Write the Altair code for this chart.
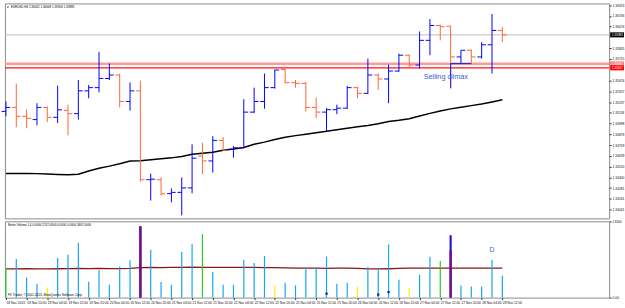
import altair as alt
import pandas as pd

symbol = "EURUSD,H4"
date_labels = ["18 Nov 2013", "18 Nov 20:00", "19 Nov 04:00", "19 Nov 12:00", "19 Nov 20:00",
               "20 Nov 04:00", "20 Nov 12:00", "20 Nov 20:00", "21 Nov 04:00", "21 Nov 12:00",
               "21 Nov 20:00", "22 Nov 04:00", "22 Nov 12:00", "22 Nov 20:00", "25 Nov 04:00",
               "25 Nov 12:00", "25 Nov 20:00", "26 Nov 04:00", "26 Nov 12:00", "26 Nov 20:00",
               "27 Nov 04:00", "27 Nov 12:00", "27 Nov 20:00", "28 Nov 04:00", "28 Nov 12:00"]

opens = [1.35133, 1.35177, 1.35078, 1.35042, 1.35177, 1.35067, 1.35144, 1.35108, 1.35361, 1.35397,
         1.35499, 1.35537, 1.35243, 1.35361, 1.34374, 1.34374, 1.34220, 1.34234, 1.34283, 1.34638,
         1.34583, 1.34811, 1.34712, 1.34729, 1.35125, 1.35243, 1.35397, 1.35598, 1.35452, 1.35444,
         1.35177, 1.35125, 1.35152, 1.35169, 1.35397, 1.35334, 1.35537, 1.35493, 1.35581, 1.35757,
         1.35647, 1.35922, 1.36087, 1.36079, 1.35738, 1.35812, 1.35738, 1.35873, 1.36032]
highs = [1.35243, 1.35441, 1.35155, 1.35224, 1.35188, 1.35419, 1.35207, 1.35482, 1.35427, 1.35793,
         1.35664, 1.35551, 1.35455, 1.35474, 1.34443, 1.34399, 1.34278, 1.34399, 1.34767, 1.34784,
         1.34858, 1.34847, 1.34748, 1.35268, 1.35397, 1.35554, 1.35598, 1.35609, 1.35482, 1.35463,
         1.35287, 1.35169, 1.35207, 1.35416, 1.35408, 1.35719, 1.35554, 1.35653, 1.35774, 1.35766,
         1.36021, 1.36159, 1.36096, 1.36085, 1.35812, 1.35821, 1.35903, 1.36214, 1.36068]
lows = [1.35078, 1.34957, 1.34946, 1.34979, 1.35015, 1.35004, 1.34866, 1.35042, 1.35279, 1.35345,
        1.35482, 1.35177, 1.35141, 1.34352, 1.34143, 1.34198, 1.34124, 1.33978, 1.34223, 1.34437,
        1.34454, 1.34693, 1.34619, 1.34721, 1.35117, 1.35163, 1.35386, 1.35444, 1.35397, 1.35133,
        1.35059, 1.34913, 1.35103, 1.35161, 1.35279, 1.35326, 1.35372, 1.35224, 1.35573, 1.35628,
        1.35609, 1.35757, 1.35922, 1.35389, 1.35664, 1.35664, 1.35719, 1.35554, 1.35903]
closes = [1.35177, 1.35078, 1.35056, 1.35177, 1.35067, 1.35150, 1.35108, 1.35361, 1.35397, 1.35499,
          1.35537, 1.35243, 1.35361, 1.34374, 1.34380, 1.34217, 1.34234, 1.34283, 1.34613, 1.34583,
          1.34811, 1.34701, 1.34729, 1.35125, 1.35243, 1.35397, 1.35592, 1.35452, 1.35444, 1.35177,
          1.35125, 1.35152, 1.35169, 1.35397, 1.35334, 1.35537, 1.35493, 1.35581, 1.35757, 1.35647,
          1.35922, 1.36087, 1.36074, 1.35738, 1.35812, 1.35738, 1.35873, 1.36032, 1.35983]
ma_values = [1.34443, 1.34443, 1.34443, 1.34442, 1.34438, 1.34433, 1.34430, 1.34435, 1.34471, 1.34501,
             1.34525, 1.34552, 1.34583, 1.34585, 1.34596, 1.34607, 1.34617, 1.34633, 1.34658, 1.34668,
             1.34679, 1.34701, 1.34715, 1.34732, 1.34768, 1.34792, 1.34820, 1.34845, 1.34864, 1.34880,
             1.34897, 1.34912, 1.34930, 1.34946, 1.34963, 1.34976, 1.34996, 1.35020, 1.35034, 1.35051,
             1.35081, 1.35111, 1.35137, 1.35161, 1.35179, 1.35197, 1.35216, 1.35238, 1.35262]

volumes = [5100, 6640, 3450, 2380, 1750, 6800, 7370, 9360, 2720, 4760, 2210, 5330, 6410, 12250, 8220,
           2670, 2210, 7830, 9190, 10890, 4420, 2210, 2210, 6470, 5950, 7150, 2090, 2550, 2090, 5220,
           5220, 7030, 2380, 2550, 1870, 5270, 4930, 9140, 3060, 1700, 3910, 7030, 6300, 10720, 2090,
           1920, 1920, 6470, 3740]
vol_types = ["churn", "normal", "normal", "normal", "low", "normal", "normal", "normal", "normal", "normal",
             "normal", "normal", "normal", "climax", "normal", "normal", "normal", "normal", "normal", "churn",
             "normal", "normal", "normal", "normal", "normal", "normal", "low", "normal", "normal", "normal",
             "normal", "normal", "normal", "normal", "low", "normal", "normal", "normal", "normal", "low",
             "normal", "normal", "churn", "climax", "normal", "normal", "normal", "normal", "normal"]
vol_ma = [4930, 4930, 4960, 4950, 4940, 4960, 4970, 5010, 4990, 5000, 4990, 4990, 5020, 5150, 5170,
          5160, 5180, 5190, 5220, 5200, 5210, 5200, 5190, 5190, 5180, 5160, 5150, 5100, 5070, 5060,
          5050, 5040, 5060, 5070, 5030, 4950, 4930, 4960, 5020, 5050, 5050, 5060, 5050, 5060, 5080,
          5070, 5060, 5060, 5050]
climax_body = {43: 8170}
marker_bars = [31, 36, 37]
marker_vals = [680, 510, 940]
vol_top = 13100

price_ticks = [1.36313, 1.36194, 1.36074, 1.35955, 1.35835, 1.35715, 1.35596, 1.35476, 1.35357,
               1.35237, 1.35118, 1.34998, 1.34878, 1.34759, 1.34639, 1.34520, 1.34400, 1.34281,
               1.34161, 1.34041]
level_lines = [1.35661, 1.35617]
support_line = {"from": 43, "to": 45, "price": 1.35664}
note_text = "Selling climax"
note_pos = (40.4, 1.35518)

n = len(opens)
bars = pd.DataFrame({"i": list(range(n)), "open": opens, "high": highs, "low": lows,
                     "close": closes, "ma": ma_values})
bars["dir"] = ["up" if c >= o else "down" for o, c in zip(opens, closes)]

tag_prices = [level_lines[0], level_lines[1], closes[-1]]
# axis labels hidden under the highlighted price tags are not drawn
visible_ticks = [t for t in price_ticks if all(abs(t - p) > 0.0004 for p in tag_prices)]

FONT = "Liberation Sans"
W = 610
xs = alt.Scale(domain=[-0.096, 58.33], nice=False, zero=False)
ys = alt.Scale(domain=[1.33945, 1.36332], nice=False, zero=False)
yaxis = alt.Axis(orient="right", values=visible_ticks, format=".5f", title=None, tickSize=2,
                 labelFontSize=3.3, labelPadding=1, grid=False, domain=False, labelOverlap=False)
col = alt.Color("dir:N", scale=alt.Scale(domain=["up", "down"], range=["#0000FF", "#FF6633"]), legend=None)

base = alt.Chart(bars)
hl = base.mark_rule(strokeWidth=1).encode(
    x=alt.X("i:Q", scale=xs, axis=None),
    y=alt.Y("low:Q", scale=ys, axis=yaxis), y2="high:Q", color=col)
op = base.transform_calculate(xo="datum.i - 0.42").mark_rule(strokeWidth=1).encode(
    x=alt.X("xo:Q", scale=xs, axis=None), x2="i:Q",
    y=alt.Y("open:Q", scale=ys, axis=yaxis), color=col)
cl = base.transform_calculate(xc="datum.i + 0.42").mark_rule(strokeWidth=1).encode(
    x=alt.X("i:Q", scale=xs, axis=None), x2="xc:Q",
    y=alt.Y("close:Q", scale=ys, axis=yaxis), color=col)
ma_line = base.mark_line(color="black", strokeWidth=1.5).encode(
    x=alt.X("i:Q", scale=xs, axis=None), y=alt.Y("ma:Q", scale=ys, axis=yaxis))

one = pd.DataFrame({"k": [0]})
bid = alt.Chart(one).mark_rule(color="#BDBDBD", strokeWidth=1).encode(
    y=alt.datum(closes[-1], scale=ys, axis=yaxis))
band = alt.Chart(one).mark_rule(color="#FF9A9A", strokeWidth=2.5).encode(
    y=alt.datum(level_lines[0], scale=ys, axis=yaxis))
redl = alt.Chart(one).mark_rule(color="#FF1010", strokeWidth=1.2).encode(
    y=alt.datum(level_lines[1], scale=ys, axis=yaxis))
sup = alt.Chart(one).mark_rule(color="#2030E0", strokeWidth=1.2).encode(
    x=alt.datum(support_line["from"], scale=xs, axis=None), x2=alt.datum(support_line["to"]),
    y=alt.datum(support_line["price"], scale=ys, axis=yaxis))
climax_low = alt.Chart(one).mark_rule(color="#2030E0", strokeWidth=1.2).encode(
    x=alt.datum(43, scale=xs, axis=None), y=alt.datum(support_line["price"], scale=ys, axis=yaxis),
    y2=alt.datum(lows[43]))
note = alt.Chart(one).mark_text(align="left", baseline="middle", fontSize=7.3, color="#3A5BD9", font=FONT).encode(
    x=alt.datum(note_pos[0], scale=xs, axis=None), y=alt.datum(note_pos[1], scale=ys, axis=yaxis),
    text=alt.value(note_text))
title_str = "%s  %.5f %.5f %.5f %.5f" % (symbol, opens[-1], highs[-1], lows[-1], closes[-1])
title = alt.Chart(one).mark_text(align="left", baseline="middle", fontSize=3.0, color="black", font=FONT).encode(
    x=alt.value(6), y=alt.value(4), text=alt.value(title_str))
icon = alt.Chart(one).mark_point(shape="triangle-down", filled=True, size=5, color="black").encode(
    x=alt.value(3), y=alt.value(4))

tags = pd.DataFrame({"price": tag_prices, "bg": ["#FF8080", "#FF0000", "#000000"]})
tags["label"] = ["%.5f" % p for p in tags["price"]]
tag_rect = alt.Chart(tags).transform_calculate(
    top="datum.price + 0.00028", bot="datum.price - 0.00028").mark_rect().encode(
    x=alt.value(611), x2=alt.value(625), y=alt.Y("top:Q", scale=ys, axis=yaxis), y2="bot:Q",
    color=alt.Color("bg:N", scale=None))
tag_text = alt.Chart(tags).mark_text(align="left", baseline="middle", fontSize=3.0, color="white", font=FONT).encode(
    x=alt.value(613), y=alt.Y("price:Q", scale=ys, axis=yaxis), text="label:N")

main = alt.layer(bid, band, redl, ma_line, hl, op, cl, sup, climax_low, note, title, icon,
                 tag_rect, tag_text).properties(width=W, height=217)

# ---------------- volume panel ----------------
vdf = pd.DataFrame({"i": list(range(n)), "vol": volumes, "type": vol_types, "vma": vol_ma})
vdf["zero"] = 0
vdf["body"] = [climax_body.get(k, v) for k, v in zip(range(n), volumes)]
vs = alt.Scale(domain=[0, vol_top], nice=False, zero=True)
vaxis = alt.Axis(orient="right", values=[0, vol_top], title=None, tickSize=2, labelFontSize=3.3,
                 labelPadding=1, grid=False, domain=False, labelOverlap=False,
                 labelExpr="datum.value == 0 ? '0.00' : '%d'" % vol_top)
xaxis = alt.Axis(values=list(range(0, n, 2)), title=None, tickSize=2, labelFontSize=3.3, labelPadding=0.5,
                 labelAlign="left", labelAngle=0, labelOverlap=False, labelFlush=False, grid=False, domain=False,
                 labelExpr="%s[round(datum.value / 2)]" % str(date_labels).replace('"', "'"))
vcol = alt.Color("type:N", scale=alt.Scale(domain=["normal", "churn", "low", "climax"],
                                          range=["#12A8EE", "#22CC22", "#F2F200", "#7A0A7A"]), legend=None)
vb = alt.Chart(vdf)
vbars = vb.transform_filter("datum.type != 'climax'").mark_rule(strokeWidth=1.2).encode(
    x=alt.X("i:Q", scale=xs, axis=xaxis), y=alt.Y("vol:Q", scale=vs, axis=vaxis), y2="zero:Q", color=vcol)
vtop = vb.transform_filter("datum.type == 'climax'").mark_rule(strokeWidth=2.2, color="#1A1AD0").encode(
    x=alt.X("i:Q", scale=xs, axis=xaxis), y=alt.Y("vol:Q", scale=vs, axis=vaxis), y2="zero:Q")
vclimax = vb.transform_filter("datum.type == 'climax'").mark_rule(strokeWidth=2.2).encode(
    x=alt.X("i:Q", scale=xs, axis=xaxis), y=alt.Y("body:Q", scale=vs, axis=vaxis), y2="zero:Q", color=vcol)
vma_line = vb.mark_line(color="#8E1414", strokeWidth=1.3).encode(
    x=alt.X("i:Q", scale=xs, axis=xaxis), y=alt.Y("vma:Q", scale=vs, axis=vaxis))
mk = pd.DataFrame({"i": marker_bars, "v": marker_vals})
vmarks = alt.Chart(mk).mark_square(size=5, color="#1010C8", opacity=1).encode(
    x=alt.X("i:Q", scale=xs, axis=xaxis), y=alt.Y("v:Q", scale=vs, axis=vaxis))
dlabel = alt.Chart(one).mark_text(align="center", baseline="middle", fontSize=7, color="#4060E0", font=FONT).encode(
    x=alt.datum(47, scale=xs, axis=xaxis), y=alt.datum(vol_top * 0.62, scale=vs, axis=vaxis), text=alt.value("D"))
vol_name = "Better Volume 1.4 0.0000 2137.0000 0.0000 0.0000 3407.0000"
vtitle = alt.Chart(one).mark_text(align="left", baseline="middle", fontSize=3.0, color="black", font=FONT).encode(
    x=alt.value(3), y=alt.value(4), text=alt.value(vol_name))
copyright_txt = alt.Chart(one).mark_text(align="left", baseline="middle", fontSize=3.2, color="black", font=FONT).encode(
    x=alt.value(3), y=alt.value(74), text=alt.value("FX Trader, \u00a9 2001-2013, MetaQuotes Software Corp."))

vol = alt.layer(vma_line, vbars, vtop, vclimax, vmarks, dlabel, vtitle, copyright_txt).properties(width=W, height=77)

chart = alt.vconcat(main, vol, spacing=3, bounds="flush").resolve_scale(color="independent").properties(
    padding={"left": 0, "top": 1, "right": 0, "bottom": 0},
    background="white",
).configure_view(stroke="#8A8A8A", strokeWidth=1).configure_axis(
    labelFont=FONT, labelColor="#111111", tickColor="#333333", labelOverlap=False)

chart.save("out.html", embed_options={"renderer": "svg", "actions": False})
